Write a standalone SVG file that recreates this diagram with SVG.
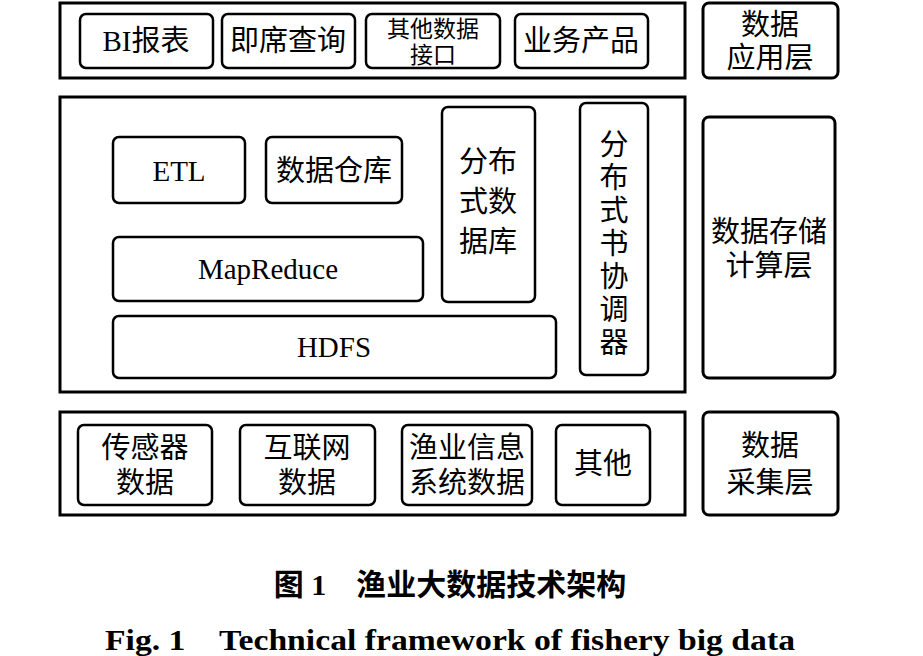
<svg xmlns="http://www.w3.org/2000/svg" width="923" height="656" viewBox="0 0 923 656">
<style>
.o{fill:#fff;stroke:#000;stroke-width:3}
.r{fill:#fff;stroke:#000;stroke-width:2.5}
text{font-family:"Liberation Serif","Noto Sans CJK SC",serif;font-size:29px;fill:#000;text-anchor:middle}
.s{font-size:23px}
.c{font-weight:bold;font-size:30px}
</style>
<rect width="923" height="656" fill="#fff"/>
<g id="app-layer"><rect class="o" x="60" y="3" width="625" height="75"/></g>
<g id="bi"><rect class="r" x="80" y="14" width="133" height="54" rx="6"/><text x="146" y="51">BI报表</text></g>
<g id="query"><rect class="r" x="222" y="14" width="133" height="54" rx="6"/><text x="288" y="51">即席查询</text></g>
<g id="iface"><rect class="r" x="366" y="14" width="134" height="54" rx="6"/><text class="s" x="433" y="37">其他数据</text><text class="s" x="433" y="63">接口</text></g>
<g id="biz"><rect class="r" x="515" y="14" width="133" height="54" rx="6"/><text x="581" y="51">业务产品</text></g>
<g id="app-label"><rect class="o" x="703" y="3" width="135" height="75" rx="6"/><text x="770" y="35">数据</text><text x="770" y="68">应用层</text></g>

<g id="store-layer"><rect class="o" x="60" y="97" width="625" height="295"/></g>
<g id="etl"><rect class="r" x="113" y="137" width="132" height="66" rx="6"/><text x="179" y="181">ETL</text></g>
<g id="dw"><rect class="r" x="266" y="137" width="136" height="66" rx="6"/><text x="334" y="181">数据仓库</text></g>
<g id="ddb"><rect class="r" x="442" y="107" width="93" height="195" rx="6"/><text x="488" y="172">分布</text><text x="488" y="212">式数</text><text x="488" y="252">据库</text></g>
<g id="coord"><rect class="r" x="580" y="103" width="68" height="272" rx="6"/><text x="614" y="155">分</text><text x="614" y="188">布</text><text x="614" y="221">式</text><text x="614" y="254">书</text><text x="614" y="287">协</text><text x="614" y="320">调</text><text x="614" y="353">器</text></g>
<g id="mr"><rect class="r" x="113" y="237" width="310" height="64" rx="6"/><text x="268" y="279">MapReduce</text></g>
<g id="hdfs"><rect class="r" x="113" y="316" width="443" height="62" rx="6"/><text x="334" y="357">HDFS</text></g>
<g id="store-label"><rect class="o" x="703" y="117" width="132" height="261" rx="6"/><text x="769" y="242">数据存储</text><text x="769" y="276">计算层</text></g>

<g id="collect-layer"><rect class="o" x="60" y="412" width="625" height="103"/></g>
<g id="sensor"><rect class="r" x="78" y="425" width="134" height="80" rx="6"/><text x="145" y="458">传感器</text><text x="145" y="493">数据</text></g>
<g id="web"><rect class="r" x="240" y="425" width="135" height="80" rx="6"/><text x="307" y="458">互联网</text><text x="307" y="493">数据</text></g>
<g id="fis"><rect class="r" x="402" y="425" width="130" height="80" rx="6"/><text x="467" y="458">渔业信息</text><text x="467" y="493">系统数据</text></g>
<g id="other"><rect class="r" x="556" y="425" width="94" height="80" rx="6"/><text x="603" y="474">其他</text></g>
<g id="collect-label"><rect class="o" x="703" y="412" width="135" height="103" rx="6"/><text x="770" y="456">数据</text><text x="770" y="493">采集层</text></g>

<g id="connectors"></g>
<text class="c" x="450" y="595">图 1　渔业大数据技术架构</text>
<text class="c" x="450" y="650" textLength="690" lengthAdjust="spacingAndGlyphs">Fig. 1　Technical framework of fishery big data</text>
</svg>
